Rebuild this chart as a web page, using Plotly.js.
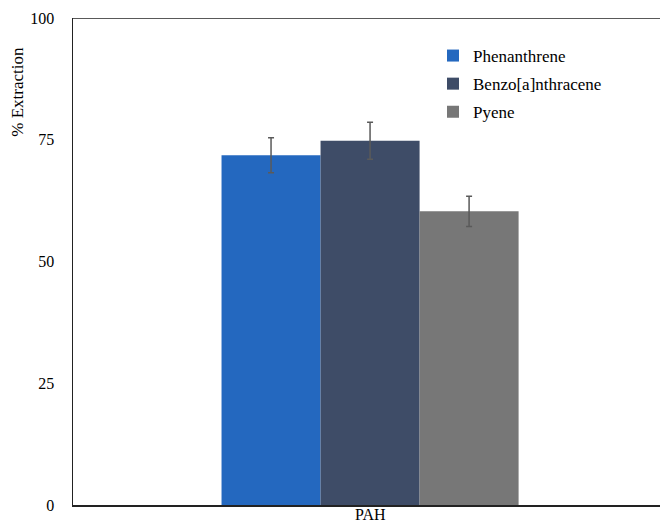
<!DOCTYPE html>
<html>
<head>
<meta charset="utf-8">
<script src="https://cdn.plot.ly/plotly-3.0.1.min.js"></script>
<style>html,body{margin:0;padding:0;background:#fff}#chart{width:660px;height:524px}</style>
</head>
<body>
<div id="chart"></div>
<script>
var categories = ["PAH"];
var seriesNames = ["Phenanthrene", "Benzo[a]nthracene", "Pyene"];
var phenanthrene = [71.8];
var benzoAnthracene = [74.8];
var pyene = [60.3];
var phenanthreneErr = [3.6];
var benzoAnthraceneErr = [3.8];
var pyeneErr = [3.1];
var yTickVals = [0, 25, 50, 75, 100];
var yTickText = ["0", "25", "50", "75", "100"];

var FONT = "'Liberation Serif', 'Times New Roman', serif";
var colors = ["#2468BF", "#3E4C67", "#777777"];
var values = [phenanthrene, benzoAnthracene, pyene];
var errs = [phenanthreneErr, benzoAnthraceneErr, pyeneErr];

var traces = seriesNames.map(function (name, i) {
  return {
    type: "bar",
    name: name,
    x: categories,
    y: values[i],
    legendgroup: "g" + i,
    marker: { color: colors[i], line: { width: 0 } },
    error_y: { type: "data", array: errs[i], visible: true, color: "#5a5a5a", thickness: 1.5, width: 3 }
  };
});

var layout = {
  width: 660,
  height: 524,
  margin: { l: 73, r: 0, t: 18, b: 19 },
  paper_bgcolor: "#fff",
  plot_bgcolor: "#fff",
  barmode: "group",
  bargap: 0.5,
  bargroupgap: 0,
  font: { family: FONT, color: "#000", size: 16 },
  showlegend: true,
  legend: {
    xanchor: "left",
    yanchor: "top",
    font: { family: FONT, size: 17, color: "#000" },
    tracegroupgap: 3,
    bgcolor: "rgba(0,0,0,0)"
  },
  xaxis: {
    type: "category",
    range: [-0.5, 0.488],
    showline: true,
    linecolor: "#222",
    linewidth: 1.5,
    showgrid: false,
    zeroline: false,
    ticks: "",
    showticklabels: false
  },
  yaxis: {
    range: [0, 100],
    tickvals: yTickVals,
    ticktext: yTickText,
    showline: true,
    linecolor: "#222",
    linewidth: 1.5,
    showgrid: false,
    zeroline: false,
    ticks: "",
    ticklabelstandoff: 14,
    tickfont: { family: FONT, size: 16, color: "#000" }
  },
  shapes: [
    { type: "line", xref: "paper", yref: "y", x0: 0, x1: 1, y0: 100, y1: 100, line: { color: "#222", width: 1.5 } }
  ],
  annotations: [
    { text: "% Extraction", xref: "paper", yref: "paper", x: -0.096, y: 0.848, textangle: -90, showarrow: false,
      xanchor: "center", yanchor: "middle",
      font: { family: FONT, size: 17, color: "#000" } },
    { text: "PAH", xref: "x", yref: "paper", x: 0, y: 0, yanchor: "top", yshift: 1, showarrow: false,
      font: { family: FONT, size: 16, color: "#000" } }
  ]
};
layout.legend.x = (433 - 73) / 587;
layout.legend.y = (505 - 38) / 487;

Plotly.newPlot("chart", traces, layout, { displayModeBar: false, staticPlot: true });
</script>
</body>
</html>
